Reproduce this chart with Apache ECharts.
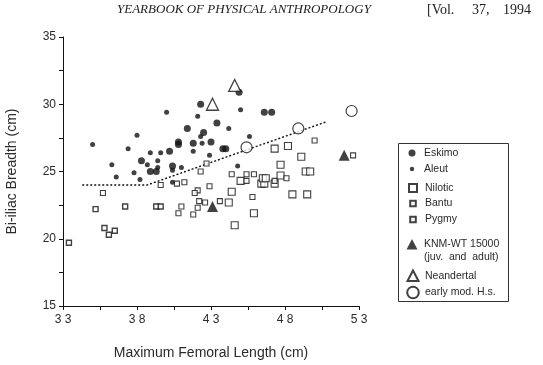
<!DOCTYPE html>
<html><head><meta charset="utf-8">
<script src="https://cdn.jsdelivr.net/npm/echarts@6/dist/echarts.min.js"></script>
<style>html,body{margin:0;padding:0;background:#fff}#c{width:543px;height:365px}</style>
</head><body><div id="c"></div>
<script>
const xTicks = [33, 38, 43, 48, 53];
const yTicks = [15, 20, 25, 30, 35];
const eskimo = [[42.3,30.0],[44.9,30.9],[46.6,29.4],[47.1,29.4],[40.8,27.2],[40.8,27.0],[40.2,26.5],[40.4,25.4],[43.0,27.2],[43.8,26.7],[44.0,26.7],[43.4,28.6],[41.8,27.1],[41.4,28.2],[42.5,27.9],[39.3,25.0],[38.9,25.0],[38.3,25.8]];
const aleut = [[35.0,27.0],[38.0,27.7],[37.4,26.7],[40.0,29.4],[36.3,25.5],[36.6,24.6],[37.8,24.9],[38.2,24.4],[38.7,25.5],[38.9,26.4],[39.6,26.4],[39.4,25.8],[39.4,25.3],[40.4,25.1],[40.4,24.2],[42.1,29.1],[44.2,28.2],[45.0,29.6],[45.6,27.6],[42.3,27.6],[41.8,26.5],[42.9,26.2],[41.0,25.3],[44.8,25.4],[42.4,27.1]];
const nilotic = [[47.7,25.5],[44.4,23.5],[45.0,24.3],[44.2,22.7],[44.6,21.0],[49.5,23.3],[48.5,23.3],[49.1,26.1],[48.2,26.9],[47.3,26.7],[49.4,25.0],[49.7,25.0],[46.4,24.1],[46.6,24.1],[46.5,24.5],[46.7,24.5],[47.3,24.1],[47.7,24.7],[45.9,21.9]];
const bantu = [[42.7,25.6],[42.3,25.0],[44.4,24.8],[45.4,24.8],[45.9,24.8],[45.4,24.3],[47.3,24.3],[48.1,24.5],[41.2,24.2],[40.7,24.1],[42.9,23.9],[42.1,23.6],[41.9,23.4],[43.6,22.8],[42.2,22.8],[42.6,22.7],[41.0,22.4],[42.1,22.3],[40.8,21.9],[41.8,21.8],[39.6,24.0],[35.7,23.4],[52.6,26.2],[50.0,27.3],[45.8,23.1]];
const pygmy = [[35.2,22.2],[37.2,22.4],[39.3,22.4],[39.6,22.4],[35.8,20.8],[36.5,20.6],[36.1,20.3],[33.4,19.7]];
const knm = [[43.1,22.4],[52.0,26.2]];
const neandertal = [[44.6,31.4],[43.1,30.0]];
const earlyMod = [[45.4,26.8],[48.9,28.2],[52.5,29.5]];
const trendLine = [[34.3,24.0],[38.7,24.0],[50.8,28.7]];

const names = ['Eskimo','Aleut','Nilotic','Bantu','Pygmy','KNM-WT 15000','Neandertal','early mod. H.s.'];
const legendY = [153, 169, 187, 202.5, 218.5, 244.5, 275, 291.5];
const PAD = 'path://M0,0M14,14';
const legendIcons = [
  PAD+'M3.5,7A3.5,3.5,0,1,0,10.5,7A3.5,3.5,0,1,0,3.5,7Z',
  PAD+'M4.8,7A2.2,2.2,0,1,0,9.2,7A2.2,2.2,0,1,0,4.8,7Z',
  PAD+'M3,3H11V11H3Z',
  PAD+'M4.2,4.2H9.8V9.8H4.2Z',
  PAD+'M4.2,4.2H9.8V9.8H4.2Z',
  PAD+'M7,1.5L12.5,12L1.5,12Z',
  PAD+'M7,1.5L12.5,12L1.5,12Z',
  PAD+'M1.2,7A5.8,5.8,0,1,0,12.8,7A5.8,5.8,0,1,0,1.2,7Z'
];

const chart = echarts.init(document.getElementById('c'), null, {renderer:'canvas'});
const ink = '#111';
const txt = '#2a2a2a';
const hollow = {color:'#fff', borderColor:ink, borderWidth:1.1};
const font = 'Liberation Sans, Arial, sans-serif';
const serif = '14px "Liberation Serif", serif';
const legends = names.map((n,i)=>({
  orient:'vertical', left:405, top:legendY[i]-7, padding:0, itemWidth:14, itemHeight:14, itemGap:0,
  selectedMode:false,
  textStyle:{fontSize:10.5, color:txt, lineHeight:12, fontFamily:font},
  data:[{name:n, icon:legendIcons[i]}]
}));
chart.setOption({
  animation:false,
  backgroundColor:'#fff',
  textStyle:{fontFamily:font},
  grid:{left:63, top:37, right:184, bottom:59, containLabel:false, outerBoundsMode:'none'},
  xAxis:{type:'value', min:33, max:53, interval:2.5,
    name:'Maximum Femoral Length (cm)', nameLocation:'middle', nameGap:40,
    nameTextStyle:{fontSize:14, color:txt, fontFamily:font},
    axisLine:{lineStyle:{color:ink, width:1}},
    axisTick:{length:4, lineStyle:{color:ink}},
    splitLine:{show:false},
    axisLabel:{fontSize:12, color:txt, margin:8,
      formatter:v=> xTicks.indexOf(Math.round(v*10)/10)>=0 ? String(Math.round(v)).split('').join(' ') : ''}},
  yAxis:{type:'value', min:15, max:35, interval:2.5,
    name:'Bi-iliac Breadth (cm)', nameLocation:'middle', nameGap:44, nameRotate:90,
    nameTextStyle:{fontSize:14, color:txt, fontFamily:font},
    axisLine:{show:true, lineStyle:{color:ink, width:1}},
    axisTick:{show:true, length:4, lineStyle:{color:ink}},
    splitLine:{show:false},
    axisLabel:{fontSize:12, color:txt, margin:7,
      formatter:v=> yTicks.indexOf(v)>=0 ? String(v) : ''}},
  legend:legends,
  graphic:[
    {type:'rect', shape:{x:398.5, y:143.5, width:110, height:158}, style:{fill:'none', stroke:'#333', lineWidth:1}, z:-1},
    {type:'text', left:424, top:252, style:{text:'(juv.  and  adult)', font:'10.5px "Liberation Sans", Arial, sans-serif', fill:txt}},
    {type:'text', left:117, top:3, style:{text:'YEARBOOK OF PHYSICAL ANTHROPOLOGY', font:'italic 13px "Liberation Serif", serif', fill:'#222'}},
    {type:'text', left:427, top:3, style:{text:'[Vol.', font:serif, fill:'#222'}},
    {type:'text', left:472, top:3, style:{text:'37,', font:serif, fill:'#222'}},
    {type:'text', left:503, top:3, style:{text:'1994', font:serif, fill:'#222'}}
  ],
  series:[
    {name:'trend', type:'line', data:trendLine, symbol:'none', silent:true,
     lineStyle:{color:ink, width:1.4, type:[2,2]}, z:1},
    {name:names[0], type:'scatter', data:eskimo, symbol:'circle', symbolSize:7, itemStyle:{color:ink}},
    {name:names[1], type:'scatter', data:aleut, symbol:'circle', symbolSize:5, itemStyle:{color:ink}},
    {name:names[2], type:'scatter', data:nilotic, symbol:'rect', symbolSize:7, itemStyle:hollow},
    {name:names[3], type:'scatter', data:bantu, symbol:'rect', symbolSize:5, itemStyle:hollow},
    {name:names[4], type:'scatter', data:pygmy, symbol:'rect', symbolSize:5, itemStyle:{color:'#fff', borderColor:ink, borderWidth:1.4}},
    {name:names[5], type:'scatter', data:knm, symbol:'triangle', symbolSize:11, itemStyle:{color:ink}},
    {name:names[6], type:'scatter', data:neandertal, symbol:'triangle', symbolSize:12, itemStyle:{color:'#fff', borderColor:ink, borderWidth:1.3}},
    {name:names[7], type:'scatter', data:earlyMod, symbol:'circle', symbolSize:11, itemStyle:{color:'#fff', borderColor:ink, borderWidth:1.2}}
  ]
});
</script></body></html>
